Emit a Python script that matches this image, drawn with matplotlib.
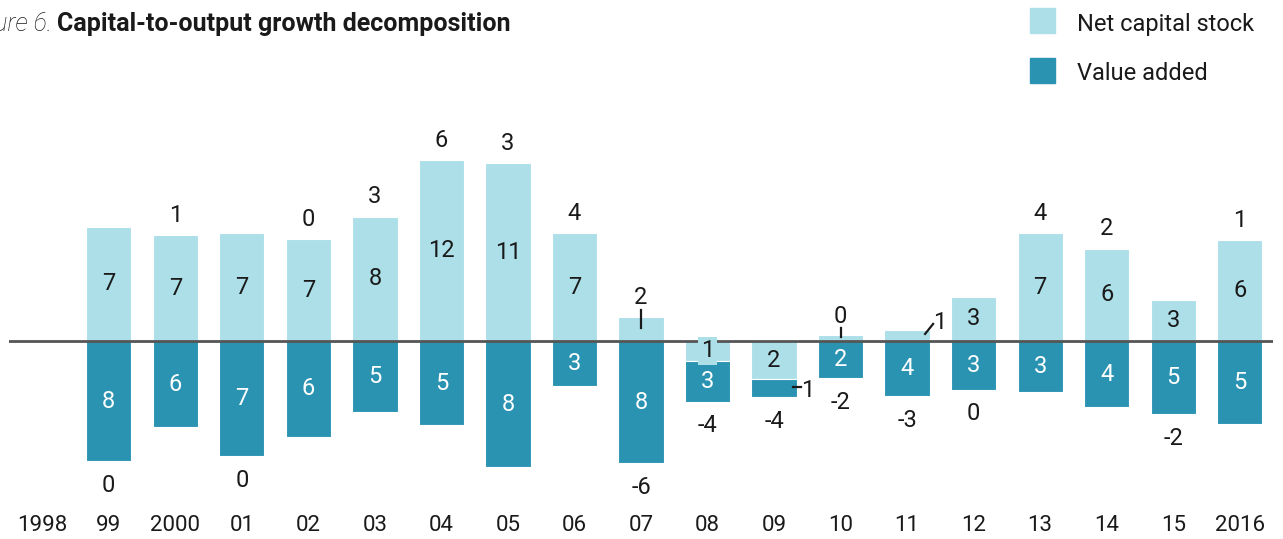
import numpy as np
import matplotlib.pyplot as plt
from matplotlib.patches import Rectangle
from matplotlib.transforms import offset_copy

plt.rcParams['font.family'] = ['Roboto', 'DejaVu Sans']

years = ['1998', '99', '2000', '01', '02', '03', '04', '05', '06', '07',
         '08', '09', '10', '11', '12', '13', '14', '15', '2016']
# growth, % (first label has no bar)
net_capital = [7.31, 6.79, 6.92, 6.52, 7.95, 11.6, 11.41, 6.92, 1.56,
               -1.28, -2.45, 0.38, 0.71, 2.84, 6.92, 5.92, 2.63, 6.47]
value_added = [7.71, 5.53, 7.39, 6.13, 4.55, 5.40, 8.10, 2.90, 7.84,
               2.60, 1.15, 2.39, 3.54, 3.12, 3.27, 4.25, 4.70, 5.32]

light = '#acdfe8'
dark = '#2a93b2'
txt = '#1a1a1a'
fs = 17

fig = plt.figure(figsize=(12.83, 5.39), dpi=100)
W, H = 1283, 539
ax = fig.add_axes([9 / W, (H - 500) / H, (1273 - 9) / W, 400 / H])
s = 15.6
ax.set_ylim(-(500 - 341) / s, (341 - 100) / s)
ax.set_xlim(-0.5, 18.5)

x = np.arange(1, len(years))
nc = np.array(net_capital)
va = np.array(value_added)
bot = np.minimum(nc, 0)
ax.bar(x, nc, width=0.68, color=light, edgecolor='white', linewidth=0.8, zorder=2)
ax.bar(x, -va, bottom=bot, width=0.68, color=dark,
       edgecolor='white', linewidth=0.8, zorder=2)
ax.axhline(0, color='#555555', lw=2, zorder=3)


def off(dx, dy):
    return offset_copy(ax.transData, fig=fig, x=dx, y=dy, units='dots')


# small values that get a leader line instead of an inside label
outside_c = {9: '2', 12: '0', 13: '1'}
outside_v = {11: '1'}

for xi, c, v, b in zip(x, nc, va, bot):
    lab_c = str(abs(int(round(c))))
    lab_v = str(abs(int(round(v))))
    tot = c - v
    if xi not in outside_c:
        box = None
        if abs(c) < 1.5:
            box = dict(boxstyle='square,pad=0.12', fc=light, ec='none')
        ax.text(xi, c / 2, lab_c, ha='center', va='center', fontsize=fs,
                color=txt, zorder=5, bbox=box)
    if xi not in outside_v:
        ax.text(xi, b - v / 2, lab_v, ha='center', va='center', fontsize=fs,
                color='white', zorder=4)
    lab_t = str(int(round(tot)))
    if tot > 0:
        ax.text(xi, max(c, 0), lab_t, ha='center', va='center', fontsize=fs,
                color=txt, transform=off(0, 20))
    else:
        ax.text(xi, b - v, lab_t, ha='center', va='center', fontsize=fs,
                color=txt, transform=off(0, -24))


def leader(xi, yv, p1, p2, label, tp):
    t1 = ax.transData.transform((xi, yv))
    pts = np.array([[t1[0] + p1[0], t1[1] + p1[1]], [t1[0] + p2[0], t1[1] + p2[1]]])
    d = ax.transData.inverted().transform(pts)
    ax.plot(d[:, 0], d[:, 1], color=txt, lw=1.6, zorder=5)
    ax.text(xi, yv, label, ha='center', va='center', fontsize=fs, color=txt,
            zorder=5, transform=off(tp[0], tp[1]))


leader(9, nc[8], (0, -11), (0, 7), outside_c[9], (0, 19))
leader(12, nc[11], (0, -2), (0, 7), outside_c[12], (0, 19))
leader(13, nc[12], (18, -4), (26, 6), outside_c[13], (33, 7))
leader(11, bot[10] - va[10] / 2, (19, 1), (27, 1), outside_v[11], (34, -2))

ax.set_xticks(np.arange(len(years)))
ax.set_xticklabels(years, fontsize=fs - 1, color=txt)
ax.tick_params(axis='x', length=0, pad=11)
ax.set_yticks([])
for sp in ax.spines.values():
    sp.set_visible(False)
ax.patch.set_alpha(0)

# title (cut at the left edge as in the source)
fig.text(52 / W, 1 - 24 / H, 'Figure 6.', ha='right', va='center', fontsize=18,
         style='italic', fontweight='light', color=txt)
fig.text(57 / W, 1 - 24 / H, 'Capital-to-output growth decomposition', ha='left',
         va='center', fontsize=18, fontweight='bold', color=txt)

# legend
for yy, col, lab in [(8, light, 'Net capital stock'), (58, dark, 'Value added')]:
    fig.patches.append(Rectangle((1030 / W, 1 - (yy + 25) / H), 25 / W, 25 / H,
                                 transform=fig.transFigure, color=col))
    fig.text(1077 / W, 1 - (yy + 16) / H, lab, ha='left', va='center',
             fontsize=17, color=txt)

fig.savefig('out.png', dpi=100)
